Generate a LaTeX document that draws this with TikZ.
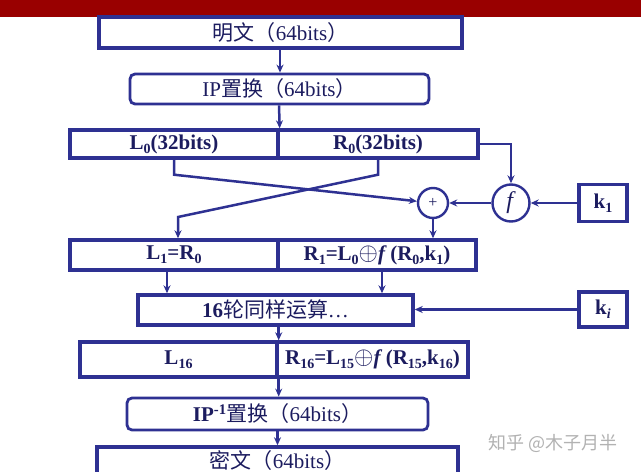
\documentclass[tikz,border=0pt]{standalone}
\usepackage{fontspec}
\setmainfont{Liberation Serif}
\newfontfamily\cjk{Noto Sans CJK SC}
\usetikzlibrary{arrows.meta}
\definecolor{bl}{RGB}{46,49,146}
\definecolor{txt}{RGB}{28,28,95}
\definecolor{topred}{RGB}{153,0,0}
\newcommand\lsub[1]{\raisebox{-0.45ex}{\fontsize{14}{14}\selectfont #1}}
\newcommand\fsz{\fontsize{21}{24}\selectfont}
\newcommand\bigop{{\fontsize{24}{24}\selectfont$\oplus$}}
\begin{document}
\begin{tikzpicture}[x=1pt,y=-1pt,
  box/.style={draw=bl, line width=3.4pt, fill=white, inner sep=0pt, text=txt, font=\fsz},
  rbox/.style={box, rounded corners=5pt, line width=2.8pt},
  circ/.style={circle, draw=bl, line width=2.4pt, fill=white, inner sep=0pt, text=txt},
  arr/.style={draw=bl, line width=2.5pt, -{Stealth[length=8pt,width=7pt]}}]
\useasboundingbox (0,0) rectangle (641,472);
\fill[white] (0,0) rectangle (641,472);
\fill[topred] (0,0) rectangle (641,17);
% boxes
\node[box, minimum width=363, minimum height=31] (n1) at (280.5,32.5) {{\cjk 明文（}64bits{\cjk ）}};
\node[rbox, minimum width=299, minimum height=30] (ip) at (279.5,89) {IP{\cjk 置换（}64bits{\cjk ）}};
\node[box, minimum width=208, minimum height=28] (L0) at (174,144) {\textbf{L\lsub{0}(32bits)}};
\node[box, minimum width=200, minimum height=28] (R0) at (378,144) {\textbf{R\lsub{0}(32bits)}};
\node[circ, minimum size=30] (plus) at (433,203) {\fontsize{16}{16}\selectfont +};
\node[circ, minimum size=37] (f) at (511,203) {\fontsize{24}{24}\selectfont\textit{f}};
\node[box, minimum width=48, minimum height=37] (k1) at (603,203) {\textbf{k\lsub{1}}};
\node[box, minimum width=208, minimum height=30] (L1) at (174,255) {\textbf{L\lsub{1}=R\lsub{0}}};
\node[box, minimum width=198, minimum height=30] (R1) at (377,255) {\textbf{R\lsub{1}=L\lsub{0}}\bigop\textbf{\textit{f}\,(R\lsub{0},k\lsub{1})}};
\node[box, minimum width=275, minimum height=30] (r16) at (275.5,310) {\textbf{16}{\cjk 轮同样运算}\ldots};
\node[box, minimum width=48, minimum height=35] (ki) at (603,309.5) {\textbf{k}\lsub{\textbf{\textit{i}}}};
\node[box, minimum width=197, minimum height=35] (L16) at (178.5,359.5) {\textbf{L\lsub{16}}};
\node[box, minimum width=191, minimum height=35] (R16) at (372.5,359.5) {\textbf{R\lsub{16}=L\lsub{15}}\bigop\textbf{\textit{f}\,(R\lsub{15},k\lsub{16})}};
\node[rbox, minimum width=301, minimum height=32] (ip1) at (277.5,414) {\textbf{IP\textsuperscript{-1}}{\cjk 置换（}64bits{\cjk ）}};
\node[box, minimum width=361, minimum height=28] (out) at (277.5,461) {\raisebox{2pt}{{\cjk 密文（}64bits{\cjk ）}}};
\node[text=black!30, font=\cjk\fontsize{18}{18}\selectfont] (wm) at (553,443) {知乎 @木子月半};
% connectors
\draw[arr] (n1.south -| 280,0) -- (ip.north -| 280,0);
\draw[arr] (ip.south -| 279,0) -- (L0.north east);
\draw[arr] (R0.east) -| (f.north);
\draw[arr] (k1.west) -- (f.east);
\draw[arr] (f.west) -- (plus.east);
\draw[arr] (L0.south) -- ++(0,15) -- (plus);
\draw[arr] (R0.south) -- ++(0,15) -- (178,217) -- (L1.north -| 178,0);
\draw[arr] (plus.south) -- (R1.north -| plus.south);
\draw[arr] ([xshift=-7pt]L1.south) -- ([xshift=-7pt]L1.south |- r16.north);
\draw[arr] ([xshift=5pt]R1.south) -- ([xshift=5pt]R1.south |- r16.north);
\draw[arr] (ki.west) -- (r16.east |- ki.west);
\draw[arr] (r16.south -| L16.east) -- (L16.north east);
\draw[arr] (L16.south east) -- (L16.south east |- ip1.north);
\draw[arr] (ip1.south) -- (out.north);
\end{tikzpicture}
\end{document}
